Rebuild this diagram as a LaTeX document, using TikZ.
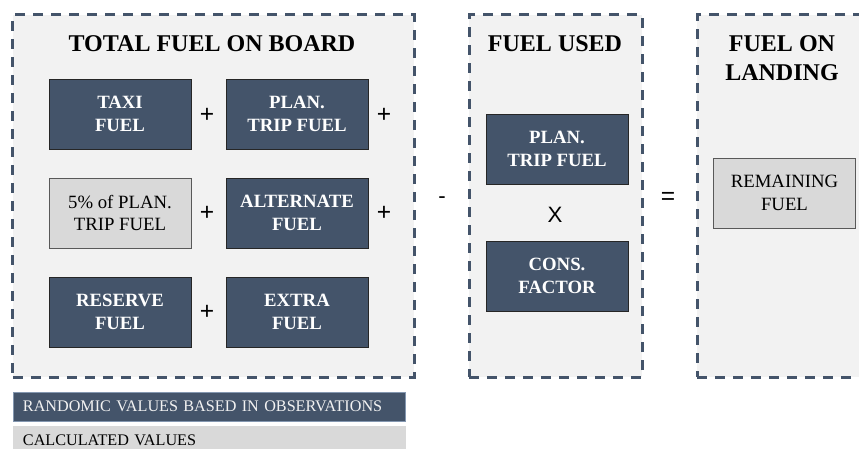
\documentclass[tikz,border=0pt]{standalone}
\usepackage{fontspec}
\setmainfont{Liberation Serif}
\newfontfamily\opfont{Liberation Sans}
\usepackage{xcolor}
\usepackage{tikz}
\definecolor{slate}{HTML}{44546A}
\definecolor{panelbg}{HTML}{F2F2F2}
\definecolor{calcgray}{HTML}{D9D9D9}
\definecolor{edgedark}{HTML}{262626}
\definecolor{calcedge}{HTML}{595959}
\definecolor{keyedge}{HTML}{8497B0}
\tikzset{
  panel/.style={rectangle, draw=slate, line width=0.09cm, fill=panelbg,
    dash pattern=on 0.3cm off 0.24cm, minimum height=10.86cm, inner sep=0pt},
  ptitle/.style={font=\bfseries\fontsize{20.5}{24.7}\selectfont, align=center, inner sep=0pt},
  fuelbox/.style={rectangle, draw=edgedark, line width=0.5pt, fill=slate, text=white,
    font=\bfseries\fontsize{16}{19.5}\selectfont, minimum width=4.26cm, minimum height=2.1cm,
    align=center, inner sep=2pt},
  fuelbox/calc/.style={rectangle, draw=calcedge, line width=0.5pt, fill=calcgray, text=black,
    font=\fontsize{16}{19.5}\selectfont, minimum width=4.26cm, minimum height=2.1cm,
    align=center, inner sep=2pt},
  opsign/.style={font=\opfont\fontsize{21}{24}\selectfont, inner sep=0pt},
  opsign/small/.style={font=\opfont\fontsize{19}{22}\selectfont, inner sep=0pt},
  keybar/.style={rectangle, draw=keyedge, line width=0.5pt, fill=slate, text=white!95!black,
    font=\fontsize{13.8}{16}\selectfont, minimum width=11.76cm, minimum height=0.87cm,
    text width=11.16cm, align=left, inner xsep=0.3cm, inner ysep=0pt},
  keybar/calc/.style={rectangle, draw=calcgray, line width=0.5pt, fill=calcgray, text=black,
    font=\fontsize{13.8}{16}\selectfont, minimum width=11.76cm, minimum height=0.87cm,
    text width=11.16cm, align=left, inner xsep=0.3cm, inner ysep=0pt},
}

\begin{document}
\begin{tikzpicture}[x=0.03cm, y=-0.03cm]
  \useasboundingbox (0,0) rectangle (859,449);
  \clip (0,0) rectangle (859,449);

  % dashed panels
  \node[panel, minimum width=12.03cm] (board) at (213.5,196) {};
  \node[panel, minimum width=5.19cm] (used) at (555.5,196) {};
  \node[panel, minimum width=5.7cm] (landing) at (792,196) {};

  \node[ptitle] (boardtitle) at (212,44) {TOTAL FUEL ON BOARD};
  \node[ptitle] (usedtitle) at (555,44) {FUEL USED};
  \node[ptitle] (landtitle) at (782,58) {FUEL ON\\LANDING};

  % fuel on board
  \node[fuelbox] (taxi) at (120,114) {TAXI\\FUEL};
  \node[fuelbox] (tripfuel) at (297,114) {PLAN.\\TRIP FUEL};
  \node[fuelbox/calc] (contingency) at (120,213) {5\% of PLAN.\\TRIP FUEL};
  \node[fuelbox] (alternate) at (297,213) {ALTERNATE\\FUEL};
  \node[fuelbox] (reserve) at (120,312) {RESERVE\\FUEL};
  \node[fuelbox] (extra) at (297,312) {EXTRA\\FUEL};

  \node[opsign] (plusA) at (207,115) {+};
  \node[opsign] (plusB) at (384,115) {+};
  \node[opsign] (plusC) at (207,213) {+};
  \node[opsign] (plusD) at (384,213) {+};
  \node[opsign] (plusE) at (207,312) {+};

  % fuel used
  \node[fuelbox] (usedtrip) at (557,149) {PLAN.\\TRIP FUEL};
  \node[opsign/small] (times) at (555,215) {X};
  \node[fuelbox] (consfactor) at (557,276) {CONS.\\FACTOR};

  \node[opsign/small] (minus) at (442,200) {-};
  \node[opsign] (equals) at (668,198) {=};

  % fuel on landing
  \node[fuelbox/calc] (remaining) at (784.5,193) {REMAINING\\FUEL};

  % legend
  \node[keybar] (keyobs) at (209,406.5) {RANDOMIC VALUES BASED IN OBSERVATIONS};
  \node[keybar/calc] (keycalc) at (209,440.5) {CALCULATED VALUES};
\end{tikzpicture}
\end{document}
